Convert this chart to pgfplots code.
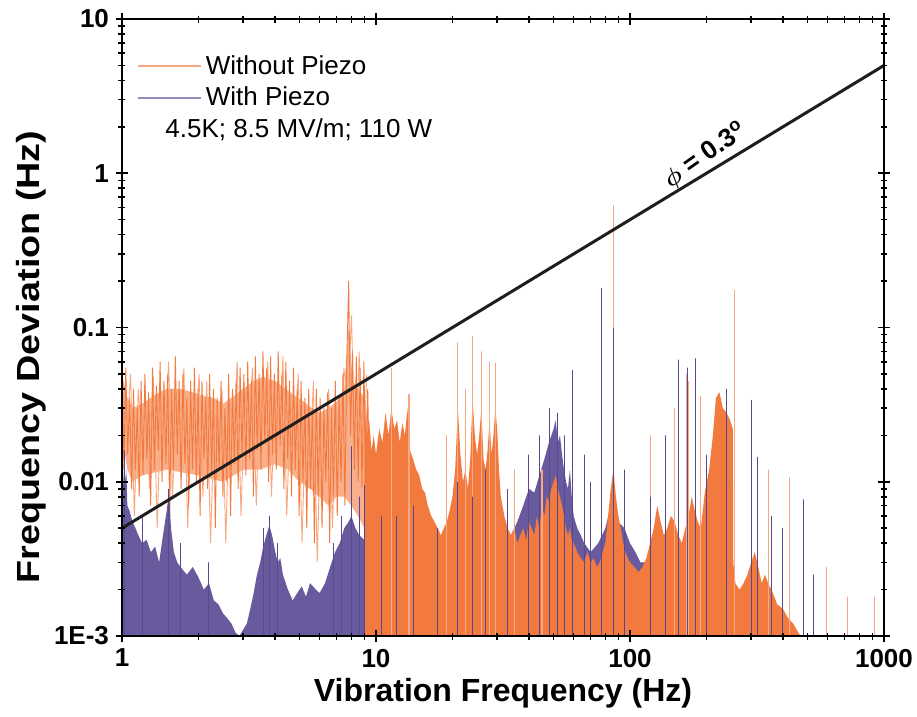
\documentclass[border=0pt]{standalone}
\usepackage{pgfplots}
\pgfplotsset{compat=1.18}
\usepackage{fontspec}
\usepackage{amsmath}
\usepackage{graphicx}
\setmainfont{Liberation Sans}

\definecolor{orng}{RGB}{243,122,62}
\definecolor{orngl}{RGB}{248,168,128}
\definecolor{purp}{RGB}{88,72,145}
\definecolor{purpl}{RGB}{150,138,190}
\definecolor{lineblk}{RGB}{30,30,30}

\begin{document}
\begin{tikzpicture}
\begin{axis}[
  name=ax,
  xmode=log, ymode=log,
  scale only axis, width=381pt, height=308.5pt,
  xmin=1, xmax=1000, ymin=0.001, ymax=10,
  xtick={1,10,100,1000}, xticklabels={1,10,100,1000},
  ytick={0.001,0.01,0.1,1,10}, yticklabels={1E-3,0.01,0.1,1,10},
  tick label style={font=\fontsize{13}{13}\selectfont\bfseries},
  xlabel={Vibration Frequency (Hz)},
  ylabel={\scalebox{1.18}[1]{Frequency Deviation (Hz)}},
  label style={font=\fontsize{16}{16}\selectfont\bfseries},
  xlabel style={at={(axis description cs:0.5,-0.092)}, anchor=center},
  ylabel style={at={(axis description cs:-0.119,0.452)}, anchor=center},
  axis line style={line width=1.2pt},
  major tick length=6pt, minor tick length=3.5pt,
  tick style={line width=0.8pt, black},
  tick align=center,
  axis on top,
  legend style={draw=none, fill=none, at={(axis description cs:0.012,0.955)},
    anchor=north west, font=\fontsize{13}{16}\selectfont, row sep=1pt},
  legend cell align=left,
  legend image code/.code={\draw[#1] (0pt,0pt) -- (31.5pt,0pt);},
]
\addlegendimage{orngl, line width=0.7pt}
\addlegendentry{Without Piezo}
\addlegendimage{purpl, line width=0.7pt}
\addlegendentry{With Piezo}

% orange core band 1-9.5 Hz
\addplot[fill=orng, fill opacity=0.6, draw=none, forget plot] coordinates {
(1.0,0.05) (1.05,0.035) (1.1,0.03) (1.2,0.032) (1.3,0.035) (1.4,0.038)
(1.5,0.04) (1.7,0.04) (1.9,0.038) (2.1,0.036) (2.3,0.035) (2.5,0.032)
(2.7,0.035) (3.0,0.04) (3.3,0.045) (3.6,0.048) (4.0,0.045) (4.4,0.04)
(4.8,0.036) (5.2,0.033) (5.6,0.03) (6.0,0.028) (6.5,0.03) (7.0,0.033)
(7.5,0.04) (7.8,0.1) (8.1,0.045) (8.5,0.04) (9.0,0.035) (9.5,0.02)
(9.5,0.006) (9.0,0.005) (8.5,0.006) (8.0,0.007) (7.5,0.008) (7.0,0.008)
(6.5,0.007) (6.0,0.008) (5.5,0.009) (5.0,0.01) (4.5,0.012) (4.0,0.013)
(3.5,0.012) (3.0,0.012) (2.5,0.01) (2.0,0.011) (1.5,0.012) (1.2,0.011)
(1.1,0.01) (1.05,0.012) (1.0,0.02)
};
% orange noise 1-9.5 Hz, second trace
\addplot[orngl, line width=0.45pt, forget plot] coordinates {
(1.0087,0.045) (1.0441,0.02) (1.0807,0.05) (1.1187,0.006) (1.1580,0.04)
(1.1987,0.018) (1.2408,0.03) (1.2843,0.009) (1.3295,0.048) (1.3761,0.005)
(1.4247,0.035) (1.4748,0.017) (1.5266,0.06) (1.5802,0.008) (1.6357,0.03)
(1.6933,0.02) (1.7528,0.055) (1.8143,0.005) (1.8780,0.03) (1.9440,0.016)
(2.0125,0.05) (2.0832,0.008) (2.1563,0.045) (2.2320,0.004) (2.3104,0.028)
(2.3918,0.015) (2.4757,0.04) (2.5627,0.004) (2.6527,0.035) (2.7458,0.018)
(2.8426,0.06) (2.9424,0.006) (3.0457,0.04) (3.1527,0.02) (3.2634,0.055)
(3.3783,0.007) (3.4969,0.045) (3.6197,0.022) (3.7468,0.06) (3.8784,0.008)
(4.0155,0.045) (4.1565,0.02) (4.3025,0.065) (4.4536,0.006) (4.6100,0.035)
(4.7726,0.015) (4.9402,0.05) (5.1137,0.004) (5.2933,0.03) (5.4791,0.012)
(5.6718,0.045) (5.8710,0.003) (6.0772,0.028) (6.2906,0.012) (6.5115,0.04)
(6.7407,0.005) (6.9774,0.03) (7.2224,0.015) (7.4761,0.055) (7.7386,0.03)
(8.0118,0.12) (8.2931,0.01) (8.5844,0.07) (8.8858,0.012) (9.1979,0.05)
};
% orange noise 1-9.5 Hz
\addplot[orng, line width=0.45pt, forget plot] coordinates {
(1.000,0.06) (1.017,0.012) (1.035,0.055) (1.053,0.015) (1.072,0.035)
(1.091,0.009) (1.110,0.04) (1.129,0.012) (1.149,0.03) (1.169,0.008)
(1.189,0.045) (1.210,0.011) (1.231,0.05) (1.253,0.014) (1.274,0.038)
(1.297,0.007) (1.319,0.055) (1.342,0.012) (1.366,0.042) (1.390,0.016)
(1.413,0.06) (1.438,0.01) (1.463,0.045) (1.489,0.013) (1.514,0.05)
(1.541,0.006) (1.567,0.04) (1.595,0.012) (1.622,0.065) (1.651,0.015)
(1.679,0.045) (1.709,0.009) (1.738,0.05) (1.769,0.013) (1.800,0.035)
(1.831,0.007) (1.863,0.045) (1.896,0.012) (1.929,0.055) (1.962,0.01)
(1.995,0.04) (2.030,0.006) (2.065,0.045) (2.101,0.014) (2.138,0.035)
(2.175,0.009) (2.213,0.05) (2.252,0.011) (2.291,0.04) (2.331,0.005)
(2.371,0.035) (2.413,0.012) (2.455,0.045) (2.497,0.008) (2.541,0.03)
(2.585,0.01) (2.630,0.05) (2.676,0.006) (2.723,0.04) (2.770,0.013)
(2.818,0.045) (2.867,0.009) (2.917,0.055) (2.968,0.015) (3.020,0.05)
(3.073,0.011) (3.126,0.06) (3.181,0.014) (3.236,0.045) (3.292,0.008)
(3.350,0.065) (3.408,0.016) (3.467,0.05) (3.528,0.012) (3.589,0.07)
(3.652,0.018) (3.715,0.055) (3.780,0.01) (3.846,0.065) (3.913,0.015)
(3.981,0.05) (4.050,0.012) (4.121,0.07) (4.193,0.017) (4.266,0.05)
(4.340,0.009) (4.416,0.06) (4.493,0.014) (4.571,0.045) (4.650,0.008)
(4.732,0.055) (4.814,0.012) (4.898,0.04) (4.983,0.006) (5.070,0.045)
(5.158,0.01) (5.248,0.035) (5.340,0.005) (5.433,0.04) (5.527,0.009)
(5.623,0.03) (5.721,0.004) (5.821,0.04) (5.922,0.008) (6.026,0.035)
(6.131,0.005) (6.237,0.03) (6.346,0.01) (6.457,0.038) (6.569,0.004)
(6.683,0.03) (6.800,0.008) (6.918,0.045) (7.038,0.006) (7.161,0.035)
(7.286,0.01) (7.413,0.05) (7.542,0.007) (7.674,0.06) (7.807,0.2)
(7.943,0.02) (8.081,0.07) (8.222,0.012) (8.366,0.065) (8.511,0.01)
(8.660,0.055) (8.810,0.009) (8.964,0.06) (9.120,0.01) (9.279,0.04)
(9.441,0.008)
};
% with piezo, dense part
\addplot[fill=purp, fill opacity=0.9, draw=none, forget plot] coordinates {
(1.00,0.001) (1.00,0.005) (1.01,0.009) (1.02,0.014) (1.03,0.01) (1.04,0.012)
(1.05,0.007) (1.07,0.0065) (1.1,0.0055) (1.13,0.005) (1.16,0.0045) (1.2,0.004)
(1.25,0.0042) (1.3,0.0035) (1.35,0.0038) (1.4,0.003) (1.45,0.0045) (1.5,0.0065)
(1.53,0.0085) (1.56,0.005) (1.6,0.0035) (1.65,0.003) (1.7,0.0028) (1.8,0.0025)
(1.9,0.0028) (2.0,0.0024) (2.1,0.002) (2.2,0.0022) (2.3,0.0017) (2.4,0.0016)
(2.5,0.0014) (2.6,0.0013) (2.7,0.0012) (2.8,0.00105) (2.9,0.001) (3.0,0.0011)
(3.1,0.0012) (3.2,0.0015) (3.3,0.0019) (3.4,0.0025) (3.5,0.003) (3.6,0.0038)
(3.7,0.0045) (3.8,0.0052) (3.9,0.0045) (4.0,0.0036) (4.1,0.003) (4.2,0.0032)
(4.3,0.0025) (4.5,0.002) (4.7,0.0017) (4.9,0.0019) (5.1,0.0021) (5.3,0.0018)
(5.5,0.0022) (5.8,0.002) (6.0,0.0019) (6.3,0.0022) (6.6,0.0028) (6.9,0.0035)
(7.2,0.004) (7.5,0.005) (7.8,0.0055) (8.0,0.006) (8.3,0.005) (8.6,0.0045)
(9.0,0.0042) (9.5,0.004) (10,0.0035) (11,0.0032) (12,0.003) (13,0.0028)
(14,0.0025) (15,0.0022) (17,0.002) (20,0.0022) (22,0.0025) (25,0.003)
(28,0.0032) (30,0.0035) (32,0.004) (34,0.0045) (36,0.0055) (38,0.007)
(40,0.009) (42,0.0085) (44,0.011) (46,0.014) (48,0.018) (50,0.022)
(51,0.025) (52,0.018) (53,0.02) (54,0.015) (55,0.012) (56,0.01)
(57,0.009) (58,0.012) (59,0.008) (60,0.006) (62,0.005) (64,0.0045)
(66,0.004) (70,0.0035) (75,0.004) (80,0.005) (84,0.007) (86,0.008)
(88,0.006) (90,0.0055) (95,0.005) (100,0.004) (105,0.0035) (110,0.003)
(120,0.003) (130,0.0035) (140,0.001)
};
% without piezo, dense part above 9 Hz
\addplot[fill=orng, draw=none, forget plot] coordinates {
(9.0,0.001) (9.0,0.03) (9.2,0.02) (9.4,0.025) (9.6,0.016) (9.8,0.02)
(10.0,0.015) (10.3,0.022) (10.6,0.018) (10.9,0.028) (11.2,0.02) (11.5,0.03)
(11.8,0.022) (12.1,0.025) (12.4,0.018) (12.7,0.024) (13.0,0.02) (13.3,0.03)
(13.6,0.016) (14.0,0.014) (14.4,0.012) (14.8,0.011) (15.2,0.009) (15.6,0.0085)
(16.0,0.007) (16.5,0.006) (17.0,0.0055) (17.5,0.005) (18.0,0.0045) (18.5,0.005)
(19.0,0.0055) (19.5,0.0065) (20.0,0.008) (20.5,0.012) (21.0,0.03) (21.5,0.015)
(22.0,0.01) (22.5,0.012) (23.0,0.009) (23.5,0.014) (24.0,0.035) (24.5,0.02)
(25.0,0.015) (25.5,0.02) (26.0,0.03) (26.5,0.014) (27.0,0.012) (27.5,0.016)
(28.0,0.025) (28.5,0.015) (29.0,0.02) (29.5,0.03) (30.0,0.022) (30.5,0.012)
(31,0.008) (32,0.006) (33,0.005) (34,0.0045) (35,0.005) (36,0.004)
(37,0.0045) (38,0.005) (39,0.0042) (40,0.0055) (41,0.005) (42,0.0045)
(43,0.006) (44,0.005) (45,0.007) (46,0.006) (47,0.008) (48,0.0075)
(49,0.009) (50,0.010) (51,0.011) (52,0.009) (53,0.008) (54,0.007)
(55,0.006) (56,0.005) (57,0.0045) (58,0.005) (59,0.0042) (60,0.004)
(62,0.0035) (64,0.0032) (66,0.003) (68,0.0035) (70,0.003) (72,0.0032)
(74,0.0028) (76,0.003) (78,0.0035) (80,0.004) (82,0.006) (84,0.009)
(86,0.012) (88,0.008) (90,0.006) (92,0.005) (94,0.004) (96,0.0035)
(98,0.0032) (100,0.003) (104,0.0028) (108,0.0026) (112,0.0028) (116,0.0032)
(120,0.004) (124,0.005) (128,0.007) (132,0.0055) (136,0.0045) (140,0.005)
(145,0.006) (150,0.0055) (155,0.0045) (160,0.004) (165,0.005) (170,0.006)
(175,0.008) (180,0.0065) (185,0.0055) (190,0.005) (197,0.0085) (205,0.012)
(212,0.02) (218,0.035) (225,0.038) (232,0.03) (240,0.028) (248,0.025)
(254,0.022) (255,0.003) (260,0.0022) (270,0.002) (280,0.0022) (290,0.0025)
(300,0.003) (310,0.0035) (320,0.0028) (330,0.0022) (340,0.0025) (350,0.0022)
(360,0.002) (370,0.0018) (380,0.0016) (400,0.0015) (420,0.0013) (440,0.0012)
(460,0.00105) (470,0.001)
};
% without piezo, single lines
\addplot[orngl, line width=0.6pt, forget plot] coordinates {
(11.5,0.001) (11.5,0.055) (11.5,0.001) (13.5,0.001) (13.5,0.037) (13.5,0.001)
(19,0.001) (19,0.02) (19,0.001) (21,0.001) (21,0.08) (21,0.001)
(22.5,0.001) (22.5,0.04) (22.5,0.001) (24,0.001) (24,0.088) (24,0.001)
(26,0.001) (26,0.07) (26,0.001) (28,0.001) (28,0.06) (28,0.001)
(29.5,0.001) (29.5,0.059) (29.5,0.001) (35,0.001) (35,0.012) (35,0.001)
(45,0.001) (45,0.012) (45,0.001) (70,0.001) (70,0.01) (70,0.001)
(86,0.001) (86,0.62) (86,0.001) (120,0.001) (120,0.02) (120,0.001)
(150,0.001) (150,0.03) (150,0.001) (167,0.001) (167,0.05) (167,0.001)
(170,0.001) (170,0.045) (170,0.001) (190,0.001) (190,0.036) (190,0.001)
(258,0.001) (258,0.175) (258,0.001) (300,0.001) (300,0.02) (300,0.001)
(350,0.001) (350,0.012) (350,0.001) (425,0.001) (425,0.0107) (425,0.001)
(595,0.001) (595,0.0028) (595,0.001) (720,0.001) (720,0.0018) (720,0.001)
(915,0.001) (915,0.0018) (915,0.001)
};
% with piezo, single lines
\addplot[purp, line width=0.5pt, forget plot] coordinates {
(1.02,0.001) (1.02,0.016) (1.02,0.001) (1.2,0.001) (1.2,0.006) (1.2,0.001)
(1.53,0.001) (1.53,0.009) (1.53,0.001) (1.7,0.001) (1.7,0.004) (1.7,0.001)
(2.2,0.001) (2.2,0.003) (2.2,0.001) (3.6,0.001) (3.6,0.005) (3.6,0.001)
(3.8,0.001) (3.8,0.006) (3.8,0.001) (4.1,0.001) (4.1,0.004) (4.1,0.001)
(6.8,0.001) (6.8,0.004) (6.8,0.001) (7.3,0.001) (7.3,0.006) (7.3,0.001)
(8.0,0.001) (8.0,0.017) (8.0,0.001) (8.6,0.001) (8.6,0.008) (8.6,0.001)
(9.0,0.001) (9.0,0.0095) (9.0,0.001) (10.5,0.001) (10.5,0.006) (10.5,0.001)
(12,0.001) (12,0.006) (12,0.001) (14,0.001) (14,0.007) (14,0.001)
(17.5,0.001) (17.5,0.005) (17.5,0.001) (21,0.001) (21,0.01) (21,0.001)
(24,0.001) (24,0.008) (24,0.001) (27,0.001) (27,0.012) (27,0.001)
(33,0.001) (33,0.009) (33,0.001) (40,0.001) (40,0.015) (40,0.001)
(44,0.001) (44,0.02) (44,0.001) (48,0.001) (48,0.03) (48,0.001)
(52,0.001) (52,0.028) (52,0.001) (55,0.001) (55,0.02) (55,0.001)
(59.5,0.001) (59.5,0.053) (59.5,0.001) (66,0.001) (66,0.015) (66,0.001)
(70,0.001) (70,0.01) (70,0.001) (77,0.001) (77,0.18) (77,0.001)
(86,0.001) (86,0.1) (86,0.001) (95,0.001) (95,0.012) (95,0.001)
(120,0.001) (120,0.008) (120,0.001) (138,0.001) (138,0.02) (138,0.001)
(155,0.001) (155,0.062) (155,0.001) (168,0.001) (168,0.055) (168,0.001)
(181,0.001) (181,0.063) (181,0.001) (200,0.001) (200,0.015) (200,0.001)
(240,0.001) (240,0.04) (240,0.001) (300,0.001) (300,0.034) (300,0.001)
(318,0.001) (318,0.0145) (318,0.001) (360,0.001) (360,0.006) (360,0.001)
(400,0.001) (400,0.005) (400,0.001) (480,0.001) (480,0.0077) (480,0.001)
(530,0.001) (530,0.0025) (530,0.001)
};
% phase line
\addplot[lineblk, line width=1.5pt, forget plot] coordinates {(1,0.005) (1000,5)};
\node[rotate=35, anchor=south, inner sep=2pt, font=\fontsize{13}{13}\selectfont\bfseries]
  at (axis cs:215,1.075) {$\boldsymbol{\phi}$ = 0.3\textsuperscript{o}};
\node[anchor=base west, inner sep=0pt, font=\fontsize{13}{16}\selectfont]
  at (rel axis cs:0.0564,0.8087) {4.5K; 8.5 MV/m; 110 W};
\coordinate (bbsw) at (rel axis cs:-0.1601,-0.1297);
\coordinate (bbne) at (rel axis cs:1.0433,1.0308);
\end{axis}
\pgfresetboundingbox
\path[use as bounding box] (bbsw) rectangle (bbne);
\end{tikzpicture}
\end{document}
